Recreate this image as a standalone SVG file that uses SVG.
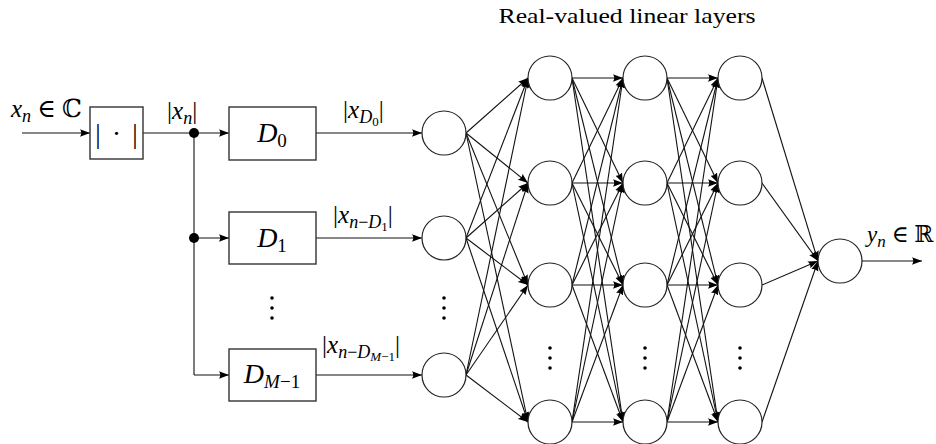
<svg xmlns="http://www.w3.org/2000/svg" width="936" height="444" viewBox="0 0 936 444">
<style>
  .box{fill:#fff;stroke:#333;stroke-width:1.4}
  .node{fill:#fff;stroke:#222;stroke-width:1.2}
  .ln{fill:none;stroke:#111;stroke-width:1.1}
  .arr{fill:none;stroke:#111;stroke-width:1.1;marker-end:url(#ah)}
  .m{font-family:"Liberation Serif","DejaVu Serif",serif;fill:#000}
  .it{font-style:italic}
  .dot{fill:#000}
</style>
<defs>
  <marker id="ah" markerUnits="userSpaceOnUse" markerWidth="11" markerHeight="8" refX="10" refY="4" orient="auto">
    <path d="M0,0.3 L10,4 L0,7.7 Q2.5,4 0,0.3 z" fill="#000"/>
  </marker>
</defs>
<rect width="936" height="444" fill="#fff"/>

<text class="m" x="627" y="23" font-size="21" text-anchor="middle" textLength="257" lengthAdjust="spacingAndGlyphs">Real-valued linear layers</text>

<g id="connectors">
  <line class="arr" x1="22" y1="133" x2="90" y2="133"/>
  <line class="ln" x1="143" y1="133" x2="194" y2="133"/>
  <line class="ln" x1="194" y1="133" x2="194" y2="375"/>
  <line class="arr" x1="194" y1="133" x2="229" y2="133"/>
  <line class="arr" x1="194" y1="238" x2="229" y2="238"/>
  <line class="arr" x1="194" y1="375" x2="229" y2="375"/>
  <line class="arr" x1="316" y1="133" x2="422" y2="133"/>
  <line class="arr" x1="316" y1="238" x2="422" y2="238"/>
  <line class="arr" x1="316" y1="375" x2="422" y2="375"/>
  <!-- input -> layer1 -->
  <line class="arr" x1="466" y1="133" x2="528" y2="78"/>
  <line class="arr" x1="466" y1="133" x2="528" y2="183"/>
  <line class="arr" x1="466" y1="133" x2="528" y2="285"/>
  <line class="arr" x1="466" y1="133" x2="528" y2="422"/>
  <line class="arr" x1="466" y1="238" x2="528" y2="78"/>
  <line class="arr" x1="466" y1="238" x2="528" y2="183"/>
  <line class="arr" x1="466" y1="238" x2="528" y2="285"/>
  <line class="arr" x1="466" y1="238" x2="528" y2="422"/>
  <line class="arr" x1="466" y1="375" x2="528" y2="78"/>
  <line class="arr" x1="466" y1="375" x2="528" y2="183"/>
  <line class="arr" x1="466" y1="375" x2="528" y2="285"/>
  <line class="arr" x1="466" y1="375" x2="528" y2="422"/>
  <!-- layer1 -> layer2 -->
  <line class="arr" x1="572" y1="78" x2="623" y2="78"/>
  <line class="arr" x1="572" y1="78" x2="623" y2="183"/>
  <line class="arr" x1="572" y1="78" x2="623" y2="285"/>
  <line class="arr" x1="572" y1="78" x2="623" y2="422"/>
  <line class="arr" x1="572" y1="183" x2="623" y2="78"/>
  <line class="arr" x1="572" y1="183" x2="623" y2="183"/>
  <line class="arr" x1="572" y1="183" x2="623" y2="285"/>
  <line class="arr" x1="572" y1="183" x2="623" y2="422"/>
  <line class="arr" x1="572" y1="285" x2="623" y2="78"/>
  <line class="arr" x1="572" y1="285" x2="623" y2="183"/>
  <line class="arr" x1="572" y1="285" x2="623" y2="285"/>
  <line class="arr" x1="572" y1="285" x2="623" y2="422"/>
  <line class="arr" x1="572" y1="422" x2="623" y2="78"/>
  <line class="arr" x1="572" y1="422" x2="623" y2="183"/>
  <line class="arr" x1="572" y1="422" x2="623" y2="285"/>
  <line class="arr" x1="572" y1="422" x2="623" y2="422"/>
  <!-- layer2 -> layer3 -->
  <line class="arr" x1="667" y1="78" x2="718" y2="78"/>
  <line class="arr" x1="667" y1="78" x2="718" y2="183"/>
  <line class="arr" x1="667" y1="78" x2="718" y2="285"/>
  <line class="arr" x1="667" y1="78" x2="718" y2="422"/>
  <line class="arr" x1="667" y1="183" x2="718" y2="78"/>
  <line class="arr" x1="667" y1="183" x2="718" y2="183"/>
  <line class="arr" x1="667" y1="183" x2="718" y2="285"/>
  <line class="arr" x1="667" y1="183" x2="718" y2="422"/>
  <line class="arr" x1="667" y1="285" x2="718" y2="78"/>
  <line class="arr" x1="667" y1="285" x2="718" y2="183"/>
  <line class="arr" x1="667" y1="285" x2="718" y2="285"/>
  <line class="arr" x1="667" y1="285" x2="718" y2="422"/>
  <line class="arr" x1="667" y1="422" x2="718" y2="78"/>
  <line class="arr" x1="667" y1="422" x2="718" y2="183"/>
  <line class="arr" x1="667" y1="422" x2="718" y2="285"/>
  <line class="arr" x1="667" y1="422" x2="718" y2="422"/>
  <!-- layer3 -> output -->
  <line class="arr" x1="762" y1="78" x2="818" y2="261"/>
  <line class="arr" x1="762" y1="183" x2="818" y2="261"/>
  <line class="arr" x1="762" y1="285" x2="818" y2="261"/>
  <line class="arr" x1="762" y1="422" x2="818" y2="261"/>
  <line class="arr" x1="862" y1="261" x2="922" y2="261"/>
</g>

<g id="input-label">
  <text class="m" x="11" y="117" font-size="25"><tspan class="it">x</tspan><tspan class="it" font-size="18" dy="5">n</tspan><tspan dy="-5"> ∈ ℂ</tspan></text>
</g>

<g id="abs">
  <rect class="box" x="90" y="107" width="53" height="52"/>
  <text class="m" y="143" font-size="27" text-anchor="middle"><tspan x="98">|</tspan><tspan x="116.5">·</tspan><tspan x="135">|</tspan></text>
</g>

<g id="abs-label">
  <text class="m" x="167" y="119" font-size="25"><tspan>|</tspan><tspan class="it">x</tspan><tspan class="it" font-size="18" dy="5">n</tspan><tspan dy="-5">|</tspan></text>
</g>

<g id="junction1"><circle class="dot" cx="194" cy="133" r="5"/></g>
<g id="junction2"><circle class="dot" cx="194" cy="238" r="5"/></g>

<g id="D0">
  <rect class="box" x="229" y="107" width="87" height="53"/>
  <text class="m" x="272" y="142" font-size="28" text-anchor="middle"><tspan class="it">D</tspan><tspan font-size="19" dy="5">0</tspan></text>
</g>
<g id="D1">
  <rect class="box" x="229" y="212" width="87" height="52"/>
  <text class="m" x="272" y="247" font-size="28" text-anchor="middle"><tspan class="it">D</tspan><tspan font-size="19" dy="5">1</tspan></text>
</g>
<g id="delay-dots">
  <circle class="dot" cx="272" cy="298" r="1.8"/>
  <circle class="dot" cx="272" cy="308" r="1.8"/>
  <circle class="dot" cx="272" cy="318" r="1.8"/>
</g>
<g id="DM1">
  <rect class="box" x="229" y="349" width="87" height="52"/>
  <text class="m" x="272" y="383" font-size="28" text-anchor="middle"><tspan class="it">D</tspan><tspan font-size="19" dy="5"><tspan class="it">M</tspan>−1</tspan></text>
</g>

<g id="label-D0">
  <text class="m" x="343" y="118" font-size="25"><tspan>|</tspan><tspan class="it">x</tspan><tspan class="it" font-size="18" dy="5">D</tspan><tspan font-size="13" dy="3">0</tspan><tspan dy="-8">|</tspan></text>
</g>
<g id="label-D1">
  <text class="m" x="333" y="223" font-size="25"><tspan>|</tspan><tspan class="it">x</tspan><tspan font-size="18" dy="5"><tspan class="it">n</tspan>−<tspan class="it">D</tspan></tspan><tspan font-size="13" dy="3">1</tspan><tspan dy="-8">|</tspan></text>
</g>
<g id="label-DM1">
  <text class="m" x="322" y="353" font-size="25"><tspan>|</tspan><tspan class="it">x</tspan><tspan font-size="18" dy="5"><tspan class="it">n</tspan>−<tspan class="it">D</tspan></tspan><tspan font-size="13" dy="3"><tspan class="it">M</tspan>−1</tspan><tspan dy="-8">|</tspan></text>
</g>

<g id="in0"><circle class="node" cx="444" cy="133" r="22"/></g>
<g id="in1"><circle class="node" cx="444" cy="238" r="22"/></g>
<g id="in-dots">
  <circle class="dot" cx="444" cy="298" r="1.8"/>
  <circle class="dot" cx="444" cy="308" r="1.8"/>
  <circle class="dot" cx="444" cy="318" r="1.8"/>
</g>
<g id="in2"><circle class="node" cx="444" cy="375" r="22"/></g>

<g id="l1n0"><circle class="node" cx="550" cy="78" r="22"/></g>
<g id="l1n1"><circle class="node" cx="550" cy="183" r="22"/></g>
<g id="l1n2"><circle class="node" cx="550" cy="285" r="22"/></g>
<g id="l1-dots">
  <circle class="dot" cx="550" cy="348" r="1.8"/>
  <circle class="dot" cx="550" cy="358" r="1.8"/>
  <circle class="dot" cx="550" cy="368" r="1.8"/>
</g>
<g id="l1n3"><circle class="node" cx="550" cy="422" r="22"/></g>

<g id="l2n0"><circle class="node" cx="645" cy="78" r="22"/></g>
<g id="l2n1"><circle class="node" cx="645" cy="183" r="22"/></g>
<g id="l2n2"><circle class="node" cx="645" cy="285" r="22"/></g>
<g id="l2-dots">
  <circle class="dot" cx="645" cy="348" r="1.8"/>
  <circle class="dot" cx="645" cy="358" r="1.8"/>
  <circle class="dot" cx="645" cy="368" r="1.8"/>
</g>
<g id="l2n3"><circle class="node" cx="645" cy="422" r="22"/></g>

<g id="l3n0"><circle class="node" cx="740" cy="78" r="22"/></g>
<g id="l3n1"><circle class="node" cx="740" cy="183" r="22"/></g>
<g id="l3n2"><circle class="node" cx="740" cy="285" r="22"/></g>
<g id="l3-dots">
  <circle class="dot" cx="740" cy="348" r="1.8"/>
  <circle class="dot" cx="740" cy="358" r="1.8"/>
  <circle class="dot" cx="740" cy="368" r="1.8"/>
</g>
<g id="l3n3"><circle class="node" cx="740" cy="422" r="22"/></g>

<g id="out"><circle class="node" cx="840" cy="261" r="22"/></g>
<g id="output-label">
  <text class="m" x="867" y="242" font-size="23"><tspan class="it">y</tspan><tspan class="it" font-size="17" dy="5">n</tspan><tspan dy="-5"> ∈ ℝ</tspan></text>
</g>
</svg>
